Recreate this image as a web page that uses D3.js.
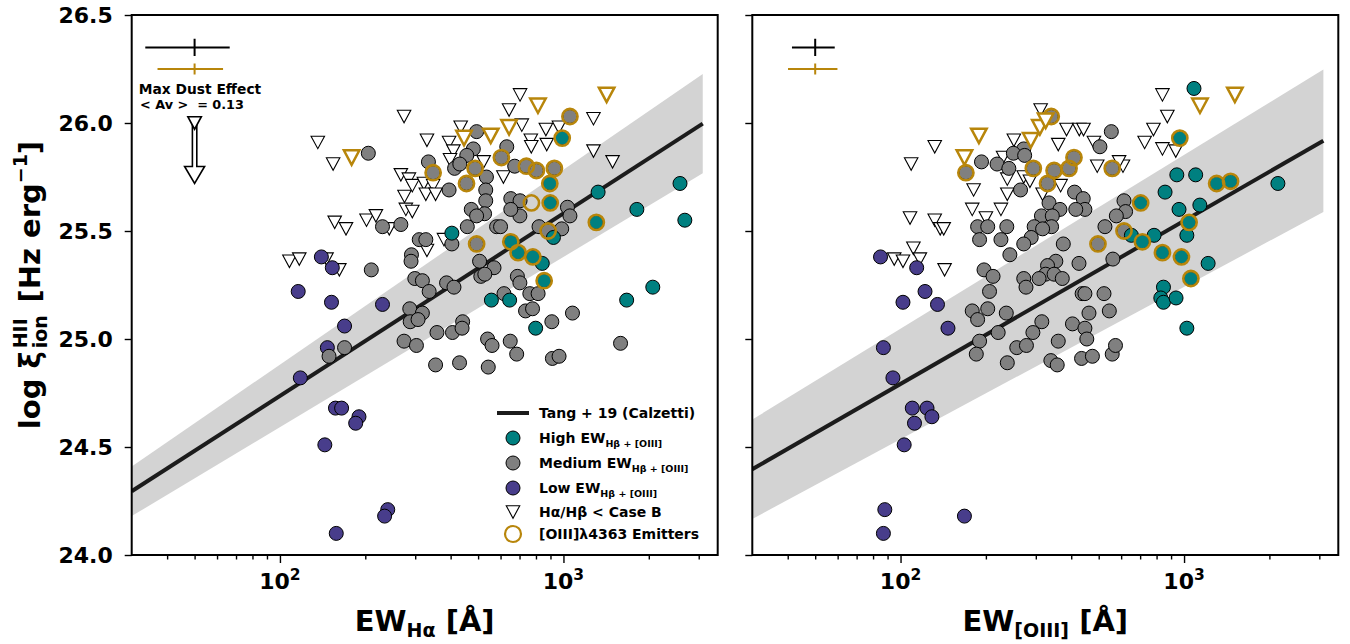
<!DOCTYPE html>
<html>
<head>
<meta charset="utf-8">
<script src="https://cdn.jsdelivr.net/npm/d3@7"></script>
<style>
  body { margin: 0; background: #fff; }
  svg text { font-family: "DejaVu Sans", sans-serif; font-weight: bold; fill: #000; white-space: pre; }
</style>
</head>
<body>
<div id="chart"></div>
<script>
// ---- data: [EW (Å), log xi_ion] ----
// left panel: EW(Hα)
const haLow = [[140,25.38],[116,25.22],[153,25.33],[152,25.17],[169,25.06],[147,24.96],[118,24.82],[230,25.16],
  [157,24.68],[165,24.68],[190,24.64],[185,24.61],[144,24.51],[240,24.21],[234,24.18],[158,24.10]];
const haMedium = [[205,25.86],[334,25.82],[230,25.52],[267,25.53],[310,25.46],[327,25.46],[291,25.39],[290,25.36],
  [210,25.32],[299,25.28],[318,25.27],[336,25.22],[387,25.26],[411,25.24],[404,25.44],[287,25.14],[318,25.12],
  [288,25.08],[307,25.09],[274,24.99],[303,24.97],[358,25.03],[406,25.03],[441,25.08],[439,25.05],[354,24.88],
  [430,24.89],[543,24.87],[506,25.36],[569,25.33],[511,25.29],[528,25.30],[540,25.00],[560,24.97],[617,25.21],
  [688,25.29],[702,25.26],[761,25.21],[814,25.21],[735,25.13],[778,25.14],[910,25.08],[1076,25.12],[649,24.99],
  [684,24.93],[914,24.91],[965,24.92],[149,24.92],[169,24.96],[494,25.96],[481,25.88],[456,25.85],[631,25.89],
  [413,25.79],[431,25.81],[535,25.75],[395,25.69],[673,25.80],[532,25.69],[532,25.64],[527,25.58],[473,25.60],
  [494,25.57],[458,25.52],[581,25.52],[600,25.52],[652,25.65],[703,25.64],[702,25.57],[652,25.60],[820,25.52],
  [986,25.51],[1033,25.61],[1054,25.57],[1590,24.98]];
const haMedium4363 = [[1054,26.03],[347,25.77],[455,25.72],[488,25.79],[604,25.84],[740,25.80],[803,25.78],
  [929,25.79],[883,25.50],[494,25.44]];
const haHigh = [[1325,25.68],[1815,25.60],[2577,25.72],[2680,25.55],[404,25.49],[842,25.35],[922,25.47],
  [2066,25.24],[1671,25.18],[557,25.18],[646,25.18],[798,25.05]];
const haHigh4363 = [[990,25.93],[895,25.72],[898,25.63],[1306,25.54],[652,25.45],[692,25.40],[780,25.38],[855,25.27]];
const haOnly4363 = [[771,25.63]];
const haCaseB = [[274,26.03],[136,25.91],[154,25.81],[267,25.76],[285,25.74],[293,25.71],[322,25.72],[347,25.71],
  [327,25.67],[354,25.67],[275,25.66],[330,25.92],[278,25.60],[293,25.59],[156,25.54],[171,25.51],[202,25.55],
  [218,25.57],[243,25.51],[108,25.36],[117,25.37],[146,25.37],[162,25.32],[330,25.41],[395,25.91],[434,25.98],
  [409,25.87],[398,25.83],[643,26.06],[703,26.13],[713,25.99],[767,25.92],[770,25.89],[867,25.97],[964,25.98],
  [873,25.90],[1276,26.02],[1276,25.87],[1490,25.82],[614,25.75],[523,25.82],[379,25.46]];
const haCaseB4363 = [[179,25.84],[446,25.93],[554,25.94],[643,25.98],[813,26.08],[1420,26.13]];

// right panel: EW([OIII])
const oLow = [[85,25.38],[114,25.33],[122,25.22],[102,25.17],[135,25.16],[147,25.05],[87,24.96],[94,24.82],
  [110,24.68],[124,24.68],[112,24.61],[129,24.64],[103,24.51],[88,24.21],[87,24.10],[168,24.18]];
const oMedium = [[554,25.96],[505,25.89],[272,25.88],[250,25.86],[274,25.85],[193,25.82],[219,25.81],[241,25.79],
  [265,25.69],[411,25.68],[441,25.65],[447,25.60],[415,25.60],[334,25.63],[365,25.60],[314,25.57],[343,25.57],
  [341,25.52],[296,25.52],[317,25.51],[289,25.47],[272,25.44],[187,25.52],[203,25.52],[237,25.52],[190,25.46],
  [226,25.46],[243,25.39],[375,25.44],[614,25.64],[622,25.59],[577,25.57],[526,25.52],[426,25.35],[561,25.37],
  [197,25.32],[212,25.29],[353,25.36],[330,25.34],[325,25.30],[348,25.30],[272,25.28],[308,25.28],[372,25.28],
  [206,25.22],[179,25.13],[187,25.09],[203,25.14],[236,25.12],[190,24.99],[185,24.93],[221,25.03],[238,24.89],
  [277,25.24],[437,25.21],[447,25.21],[522,25.21],[462,25.12],[545,25.13],[315,25.08],[293,25.03],[404,25.07],
  [447,25.05],[454,25.00],[360,24.99],[257,24.96],[278,24.97],[339,24.90],[357,24.88],[435,24.91],[475,24.92],
  [558,24.93],[573,24.97]];
const oMedium4363 = [[340,26.03],[170,25.77],[294,25.79],[348,25.78],[393,25.79],[409,25.84],[330,25.72],
  [558,25.79],[614,25.50],[497,25.44]];
const oHigh = [[1084,26.16],[943,25.76],[1099,25.76],[857,25.68],[960,25.60],[1137,25.62],[1023,25.48],[784,25.48],
  [1216,25.35],[652,25.48],[846,25.24],[828,25.19],[846,25.17],[937,25.19],[1023,25.05],[2143,25.72]];
const oHigh4363 = [[966,25.93],[1303,25.72],[1459,25.73],[1042,25.54],[703,25.63],[713,25.45],[839,25.40],
  [979,25.38],[1057,25.28]];
const oOnly4363 = [];
const oCaseB = [[132,25.89],[109,25.81],[312,26.06],[251,25.92],[385,25.97],[427,25.97],[442,25.97],[360,25.90],
  [481,25.91],[839,26.13],[873,26.03],[780,25.97],[726,25.91],[839,25.88],[935,25.87],[230,25.84],[494,25.80],
  [609,25.80],[590,25.82],[238,25.74],[272,25.75],[286,25.73],[181,25.69],[367,25.71],[238,25.67],[317,25.67],
  [179,25.60],[226,25.60],[200,25.56],[108,25.56],[132,25.55],[138,25.51],[142,25.51],[111,25.42],[95,25.37],
  [102,25.36],[117,25.37],[143,25.32]];
const oCaseB4363 = [[189,25.94],[168,25.84],[288,25.92],[310,25.98],[325,26.01],[1138,26.08],[1511,26.13]];

// Tang+19 relations (line and shaded band), sampled at the ends
const fitEW = [30, 3100];
const haFit = [24.295, 25.997];
const haBandLo = [24.18, 25.767];
const haBandHi = [24.41, 26.227];
const oFit = [24.397, 25.918];
const oBandLo = [24.167, 25.588];
const oBandHi = [24.627, 26.248];

// typical error bars: [EW, xi, ±EW, ±xi] (first all, second [OIII]4363 emitters)
const haErrBars = [[50, 26.35, 16.5, 0.04], [50, 26.25, 13, 0.025]];
const oErrBars = [[50, 26.35, 8.6, 0.04], [50, 26.25, 9.9, 0.025]];

// dust arrow: [EW, from xi, to xi]
const dustArrow = [50, 26.0, 25.72];

const yTicks = [24.0, 24.5, 25.0, 25.5, 26.0, 26.5];
const xMajor = [100, 1000];
const xMinor = [40, 50, 60, 70, 80, 90, 200, 300, 400, 500, 600, 700, 800, 900, 2000, 3000];

// ---- styling ----
const cHigh = '#008080', cMed = '#808080', cLow = '#483d8b', cGold = '#b8860b', cLine = '#1c1c1c';
const W = 1350, H = 644;
const plotTop = 15, plotBottom = 555;

const svg = d3.select('#chart').append('svg')
  .attr('width', W).attr('height', H)
  .style('background', '#fff');

const y = d3.scaleLinear().domain([24, 26.5]).range([plotBottom, plotTop]);

function triPath(w, h) {
  return `M${-w / 2},${-h / 2}L${w / 2},${-h / 2}L0,${h / 2}Z`;
}

const panels = [
  { x0: 131.7, x1: 717.7, low: haLow, med: haMedium, med4363: haMedium4363, high: haHigh, high4363: haHigh4363,
    only4363: haOnly4363, caseB: haCaseB, caseB4363: haCaseB4363, fit: haFit, lo: haBandLo, hi: haBandHi,
    err: haErrBars, sub: 'Hα', first: true },
  { x0: 752.3, x1: 1338.3, low: oLow, med: oMedium, med4363: oMedium4363, high: oHigh, high4363: oHigh4363,
    only4363: oOnly4363, caseB: oCaseB, caseB4363: oCaseB4363, fit: oFit, lo: oBandLo, hi: oBandHi,
    err: oErrBars, sub: '[OIII]', first: false }
];

panels.forEach((p, i) => {
  const x = d3.scaleLog().domain([30, 3500]).range([p.x0, p.x1]);

  svg.append('clipPath').attr('id', 'clip' + i)
    .append('rect').attr('x', p.x0).attr('y', plotTop).attr('width', p.x1 - p.x0).attr('height', plotBottom - plotTop);

  const g = svg.append('g').attr('clip-path', `url(#clip${i})`);

  // band + relation
  const band = fitEW.map((e, k) => ({ e, lo: p.lo[k], hi: p.hi[k] }));
  g.append('path').datum(band)
    .attr('d', d3.area().x(d => x(d.e)).y0(d => y(d.lo)).y1(d => y(d.hi)))
    .attr('fill', '#d3d3d3');
  g.append('path').datum(fitEW.map((e, k) => [e, p.fit[k]]))
    .attr('d', d3.line().x(d => x(d[0])).y(d => y(d[1])))
    .attr('stroke', cLine).attr('stroke-width', 4).attr('fill', 'none');

  // case B triangles
  g.selectAll('path.caseb').data(p.caseB).join('path').attr('class', 'caseb')
    .attr('d', triPath(13.5, 12.5))
    .attr('transform', d => `translate(${x(d[0])},${y(d[1])})`)
    .attr('fill', '#fff').attr('stroke', '#000').attr('stroke-width', 1.1);

  // circles
  const dots = (data, fill) => g.append('g').selectAll('circle').data(data).join('circle')
    .attr('cx', d => x(d[0])).attr('cy', d => y(d[1])).attr('r', 7)
    .attr('fill', fill).attr('stroke', '#000').attr('stroke-width', 1);
  dots(p.low, cLow);
  dots(p.med.concat(p.med4363), cMed);
  dots(p.high.concat(p.high4363), cHigh);

  // [OIII]4363 emitters
  g.append('g').selectAll('circle').data(p.med4363.concat(p.high4363, p.only4363)).join('circle')
    .attr('cx', d => x(d[0])).attr('cy', d => y(d[1])).attr('r', 7.6)
    .attr('fill', 'none').attr('stroke', cGold).attr('stroke-width', 2.6);
  g.append('g').selectAll('path').data(p.caseB4363).join('path')
    .attr('d', triPath(15.5, 14.5))
    .attr('transform', d => `translate(${x(d[0])},${y(d[1])})`)
    .attr('fill', '#fff').attr('stroke', cGold).attr('stroke-width', 2.5);

  // error bar crosses
  p.err.forEach((e, k) => {
    const col = k === 0 ? '#000' : cGold;
    g.append('line').attr('x1', x(e[0] - e[2])).attr('x2', x(e[0] + e[2]))
      .attr('y1', y(e[1])).attr('y2', y(e[1])).attr('stroke', col).attr('stroke-width', 2);
    g.append('line').attr('x1', x(e[0])).attr('x2', x(e[0]))
      .attr('y1', y(e[1] - e[3])).attr('y2', y(e[1] + e[3])).attr('stroke', col).attr('stroke-width', 2);
  });

  // axes
  const ax = svg.append('g').attr('transform', `translate(0,${plotBottom})`);
  ax.call(d3.axisBottom(x).tickValues(xMinor).tickSize(4.5).tickFormat(''));
  ax.append('g').call(d3.axisBottom(x).tickValues(xMajor).tickSize(8).tickFormat(''));
  ax.selectAll('.domain').remove();
  ax.selectAll('line').attr('stroke-width', 1.4);

  xMajor.forEach(v => {
    const t = svg.append('text').attr('x', x(v)).attr('y', 589).attr('text-anchor', 'middle')
      .style('font-size', '22px');
    t.append('tspan').text('10');
    t.append('tspan').text(String(Math.round(Math.log10(v)))).attr('dy', -9).style('font-size', '15.5px');
  });

  const ay = svg.append('g').attr('transform', `translate(${p.x0},0)`)
    .call(d3.axisLeft(y).tickValues(yTicks).tickSize(7).tickPadding(12)
      .tickFormat(p.first ? d3.format('.1f') : ''));
  ay.selectAll('.domain').remove();
  ay.selectAll('line').attr('stroke-width', 1.4);
  ay.selectAll('text').style('font-size', '22px').attr('dy', '0.36em');

  svg.append('rect').attr('x', p.x0).attr('y', plotTop).attr('width', p.x1 - p.x0).attr('height', plotBottom - plotTop)
    .attr('fill', 'none').attr('stroke', '#000').attr('stroke-width', 2);

  // x label
  const xl = svg.append('text').attr('x', (p.x0 + p.x1) / 2).attr('y', 631).attr('text-anchor', 'middle')
    .style('font-size', '29px');
  xl.append('tspan').text('EW');
  xl.append('tspan').text(p.sub).attr('dy', 6).style('font-size', '19px');
  xl.append('tspan').text(' [Å]').attr('dy', -6);

  if (p.first) {
    // dust arrow
    const ax0 = x(dustArrow[0]), ya = y(dustArrow[1]), yb = y(dustArrow[2]);
    const hl = 17, hw = 10, sw = 2.2;
    const arrow = d3.path();
    arrow.moveTo(ax0 - sw, ya); arrow.lineTo(ax0 + sw, ya); arrow.lineTo(ax0 + sw, yb - hl);
    arrow.lineTo(ax0 + hw, yb - hl); arrow.lineTo(ax0, yb); arrow.lineTo(ax0 - hw, yb - hl);
    arrow.lineTo(ax0 - sw, yb - hl); arrow.closePath();
    svg.append('path').attr('d', arrow.toString()).attr('fill', '#fff').attr('stroke', '#000').attr('stroke-width', 1.6);
    svg.append('path').attr('d', triPath(13.5, 12.5))
      .attr('transform', `translate(${ax0},${ya})`)
      .attr('fill', '#fff').attr('stroke', '#000').attr('stroke-width', 1.6);
    svg.append('text').attr('x', 200).attr('y', 94).attr('text-anchor', 'middle').style('font-size', '13.8px')
      .text('Max Dust Effect');
    svg.append('text').attr('x', 192).attr('y', 109).attr('text-anchor', 'middle').style('font-size', '12.8px')
      .text('< Av >  = 0.13');

    // legend
    const lg = svg.append('g');
    const lx = 513, tx = 539;
    const rows = [413, 438, 463, 488, 512, 534];
    lg.append('line').attr('x1', 497).attr('x2', 529).attr('y1', rows[0]).attr('y2', rows[0])
      .attr('stroke', cLine).attr('stroke-width', 4);
    [cHigh, cMed, cLow].forEach((c, k) => {
      lg.append('circle').attr('cx', lx).attr('cy', rows[k + 1]).attr('r', 7)
        .attr('fill', c).attr('stroke', '#000').attr('stroke-width', 1);
    });
    lg.append('path').attr('d', triPath(13.5, 12.5)).attr('transform', `translate(${lx},${rows[4]})`)
      .attr('fill', '#fff').attr('stroke', '#000').attr('stroke-width', 1.1);
    lg.append('circle').attr('cx', lx).attr('cy', rows[5]).attr('r', 8)
      .attr('fill', 'none').attr('stroke', cGold).attr('stroke-width', 2.2);
    const labels = [['Tang + 19 (Calzetti)', ''], ['High EW', 'Hβ + [OIII]'], ['Medium EW', 'Hβ + [OIII]'],
      ['Low EW', 'Hβ + [OIII]'], ['Hα/Hβ < Case B', ''], ['[OIII]λ4363 Emitters', '']];
    labels.forEach((l, k) => {
      const t = lg.append('text').attr('x', tx).attr('y', rows[k] + 5).style('font-size', '14px');
      t.append('tspan').text(l[0]);
      if (l[1]) t.append('tspan').text(l[1]).attr('dy', 4).style('font-size', '9.5px');
    });
  }
});

// y label, built from pieces in a rotated group
const yl = svg.append('g').attr('transform', 'translate(40,285) rotate(-90)');
const big = 29, small = 19;
const parts = [
  { s: 'log ξ', f: big, dy: 0, gap: 3 },
  { s: 'HII', f: small, dy: -13, stack: true },
  { s: 'ion', f: small, dy: 7, stackEnd: true, gap: 4 },
  { s: '[Hz erg', f: big, dy: 0 },
  { s: '−1', f: small, dy: -13 },
  { s: ']', f: big, dy: 0 }
];
let cx = 0, stackX = 0, stackW = 0;
const made = parts.map(pt => {
  const t = yl.append('text').attr('y', pt.dy).style('font-size', pt.f + 'px').text(pt.s);
  const w = t.node().getComputedTextLength();
  if (pt.stack) { stackX = cx; stackW = w; t.attr('x', cx); return t; }
  if (pt.stackEnd) { t.attr('x', stackX); cx = stackX + Math.max(stackW, w) + (pt.gap || 0) + big * 0.3; return t; }
  t.attr('x', cx); cx += w + (pt.gap || 0); return t;
});
made.forEach(t => t.attr('x', +t.attr('x') - cx / 2));
</script>
</body>
</html>
